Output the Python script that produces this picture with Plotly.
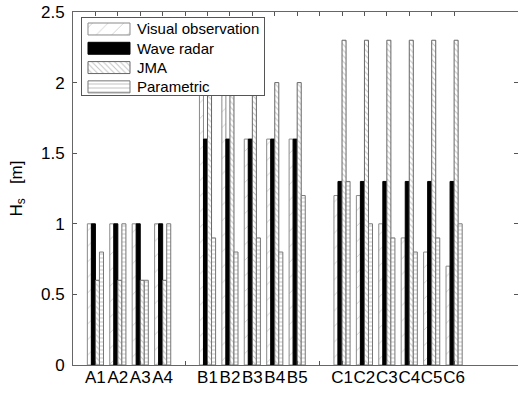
import plotly.graph_objects as go

# ---- data ----
positions = list(range(1, 18))
tick_labels = ["A1", "A2", "A3", "A4", "", "B1", "B2", "B3", "B4", "B5", "",
               "C1", "C2", "C3", "C4", "C5", "C6"]
visual_obs = [1.0, 1.0, 1.0, 1.0, None, 2.0, 2.0, 1.6, 1.6, 1.6, None,
              1.2, 1.2, 1.0, 0.9, 0.8, 0.7]
wave_radar = [1.0, 1.0, 1.0, 1.0, None, 1.6, 1.6, 1.6, 1.6, 1.6, None,
              1.3, 1.3, 1.3, 1.3, 1.3, 1.3]
jma = [0.6, 0.6, 0.6, 0.6, None, 2.0, 2.0, 2.0, 2.0, 2.0, None,
       2.3, 2.3, 2.3, 2.3, 2.3, 2.3]
parametric = [0.8, 1.0, 0.6, 1.0, None, 0.9, 0.8, 0.9, 0.8, 1.2, None,
              1.3, 1.0, 0.9, 0.8, 0.9, 1.0]
series_names = ["Visual observation", "Wave radar", "JMA", "Parametric"]
y_ticks = [0, 0.5, 1, 1.5, 2, 2.5]
y_tick_labels = ["0", "0.5", "1", "1.5", "2", "2.5"]

FONT = "Liberation Sans, Arial, sans-serif"

# marker styles per series
styles = [
    dict(color="white", line=dict(color="#8a8a8a", width=1),
         pattern=dict(shape="/", size=11, solidity=0.08,
                      fgcolor="#9a9a9a", bgcolor="white")),
    dict(color="black", line=dict(color="black", width=1)),
    dict(color="white", line=dict(color="#666666", width=1),
         pattern=dict(shape="\\", size=4, solidity=0.25,
                      fgcolor="#888888", bgcolor="white")),
    dict(color="white", line=dict(color="#777777", width=1),
         pattern=dict(shape="-", size=4, solidity=0.25,
                      fgcolor="#888888", bgcolor="white")),
]
series_values = [visual_obs, wave_radar, jma, parametric]

fig = go.Figure()
for name, vals, st in zip(series_names, series_values, styles):
    fig.add_trace(go.Bar(x=positions, y=vals, name=name, marker=st,
                         showlegend=False, xaxis="x", yaxis="y"))

# ---- legend drawn as an inset (wide hatched keys like the original) ----
for i, (name, st) in enumerate(zip(series_names, styles)):
    fig.add_trace(go.Bar(x=[1], y=[i], orientation="h", marker=st,
                         width=0.62, offsetgroup="key", showlegend=False,
                         hoverinfo="skip", xaxis="x2", yaxis="y2"))
    fig.add_annotation(x=1.12, y=i, xref="x2", yref="y2", text=name,
                       showarrow=False, xanchor="left", yanchor="middle",
                       font=dict(family=FONT, size=15, color="black"))

# white legend box (sits above the main bars, below the keys)
fig.add_shape(type="rect", xref="x2", yref="y2", x0=-1, x1=6, y0=-2, y1=5,
              fillcolor="white", line=dict(width=0), layer="below")

axis_font = dict(family=FONT, size=17, color="black")

fig.update_layout(
    width=518, height=393,
    margin=dict(l=73, r=0, t=12, b=28),
    paper_bgcolor="white", plot_bgcolor="white",
    barmode="group", bargap=0.28, bargroupgap=0,
    font=dict(family=FONT, size=17, color="black"),
    showlegend=False,
    xaxis=dict(
        domain=[0, 1], anchor="y",
        range=[0, 19.85], tickmode="array", tickvals=positions,
        ticktext=tick_labels, tickangle=0,
        ticks="inside", ticklen=4, tickcolor="#555555",
        showline=True, linecolor="#666666", linewidth=1, mirror="ticks",
        showgrid=False, zeroline=False, tickfont=axis_font,
        ticklabelstandoff=-3,
    ),
    yaxis=dict(
        domain=[0, 1], anchor="x",
        range=[0, 2.5], tickmode="array", tickvals=y_ticks,
        ticktext=y_tick_labels,
        ticks="inside", ticklen=4, tickcolor="#555555",
        showline=True, linecolor="#666666", linewidth=1, mirror="ticks",
        showgrid=False, zeroline=False, tickfont=axis_font,
        ticklabelstandoff=4,
        title=dict(text="H<sub>s</sub>\u00a0\u00a0 [m]", standoff=14,
                   font=axis_font),
    ),
    xaxis2=dict(domain=[0.0202, 0.4292], anchor="y2", range=[-0.143, 4.19],
                showline=True, mirror=True, linecolor="#555555", linewidth=1,
                showticklabels=False, ticks="", showgrid=False, zeroline=False,
                fixedrange=True),
    yaxis2=dict(domain=[0.765, 0.983], anchor="x2", range=[3.42, -0.57],
                showline=True, mirror=True, linecolor="#555555", linewidth=1,
                showticklabels=False, ticks="", showgrid=False, zeroline=False,
                fixedrange=True),
)

fig.write_html("out.html",
               config={"displayModeBar": False},
               post_script="document.body.style.margin='0';")
